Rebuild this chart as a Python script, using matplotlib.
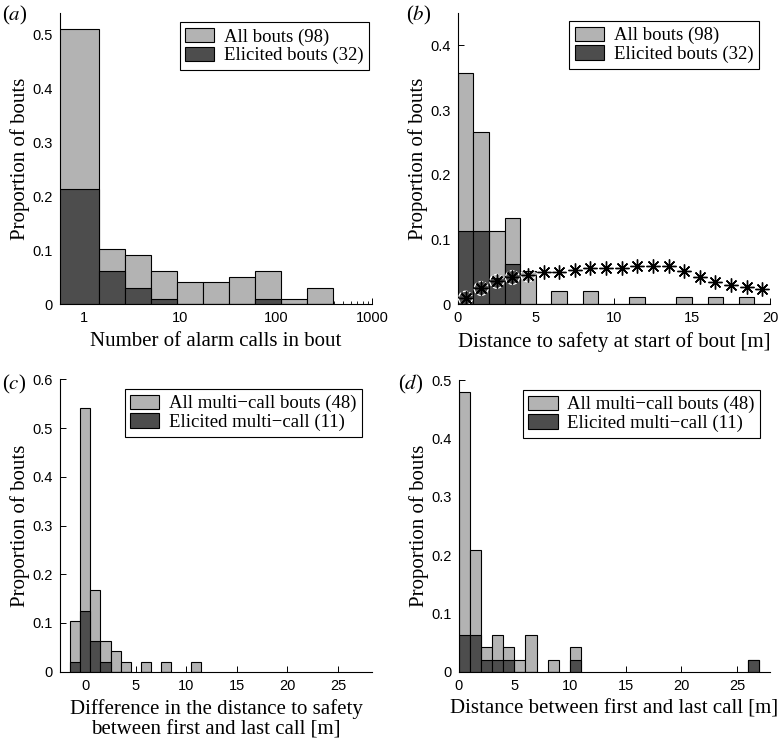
import numpy as np
import matplotlib
matplotlib.use("Agg")
import matplotlib.pyplot as plt

plt.rcParams['font.family'] = ['Liberation Serif', 'DejaVu Serif']
plt.rcParams['mathtext.fontset'] = 'stix'

LIGHT = '#b3b3b3'
DARK = '#4d4d4d'

# (a) number of alarm calls per bout, log bins (bin edges)
a_edges = [0.5, 1.43, 2.68, 4.97, 9.3, 17.3, 32.1, 60.2, 112.6, 209, 392]
a_all = [50, 10, 9, 6, 4, 4, 5, 6, 1, 3]          # of 98 bouts
a_elic = [21, 6, 3, 1, 0, 0, 0, 1, 0, 0]          # of 98 bouts

# (b) distance to safety at start of bout, 1 m bins from 0
b_all = [35, 26, 11, 13, 5, 0, 2, 0, 2, 0, 0, 1, 0, 0, 1, 0, 1, 0, 1, 0]
b_elic = [11, 11, 4, 6, 0, 0, 0, 0, 0, 0, 0, 0, 0, 0, 0, 0, 0, 0, 0, 0]
b_star = [0.009, 0.024, 0.035, 0.041, 0.045, 0.049, 0.050, 0.053, 0.055, 0.056,
          0.056, 0.058, 0.058, 0.058, 0.051, 0.042, 0.034, 0.029, 0.026, 0.023]

# (c) difference in distance to safety, bins centred on integers
c_centres = [-1, 0, 1, 2, 3, 4, 6, 8, 11]
c_all = [5, 26, 8, 3, 2, 1, 1, 1, 1]              # of 48 bouts
c_elic = [1, 6, 3, 1, 0, 0, 0, 0, 0]

# (d) distance between first and last call, 1 m bins from 0
d_left = [0, 1, 2, 3, 4, 5, 6, 8, 10, 26]
d_all = [23, 10, 2, 3, 2, 1, 3, 1, 2, 1]          # of 48 bouts
d_elic = [3, 3, 1, 1, 1, 0, 0, 0, 1, 1]

W, H = 782, 743
LAB = 15
fig = plt.figure(figsize=(W / 100, H / 100), dpi=100)


def make_ax(l, r, t, b):
    ax = fig.add_axes([l / W, 1 - b / H, (r - l) / W, (b - t) / H])
    ax.spines['top'].set_visible(False)
    ax.spines['right'].set_visible(False)
    for s in ('left', 'bottom'):
        ax.spines[s].set_linewidth(0.8)
    ax.tick_params(direction='in', length=4, width=0.7, pad=5,
                   labelsize=10.5, labelfontfamily='Liberation Sans')
    ax.tick_params(which='minor', direction='in', length=2, width=0.6)
    ax.set_axisbelow(True)
    return ax


def ylabels(ax, top, step=0.1):
    ticks = np.round(np.arange(0, top + 1e-9, step), 1)
    ax.set_yticks(ticks)
    ax.set_yticklabels(['0'] + [f'{t:g}' for t in ticks[1:]])


def legend(ax, labels, bx, by):
    h = [plt.Rectangle((0, 0), 1, 1, fc=LIGHT, ec='black', lw=0.8),
         plt.Rectangle((0, 0), 1, 1, fc=DARK, ec='black', lw=0.8)]
    lg = ax.legend(h, labels, loc='upper right', bbox_to_anchor=(bx, by),
                   borderaxespad=0, fancybox=False, edgecolor='black',
                   framealpha=1, fontsize=13.5, handlelength=1.55,
                   handleheight=0.8, labelspacing=0.05, handletextpad=0.5,
                   borderpad=0.3)
    lg.get_frame().set_linewidth(0.8)


# ---- (a)
ax = make_ax(60, 372, 13, 304)
edges = np.array(a_edges)
widths = np.diff(edges)
ax.bar(edges[:-1], np.array(a_all) / 98, width=widths, align='edge',
       color=LIGHT, edgecolor='black', linewidth=0.8)
ax.bar(edges[:-1], np.array(a_elic) / 98, width=widths, align='edge',
       color=DARK, edgecolor='black', linewidth=0.8)
ax.set_xscale('log')
ax.set_xlim(0.564, 1000)
ax.set_ylim(0, 0.54)
ax.set_xticks([1, 10, 100, 1000])
ax.set_xticklabels(['1', '10', '100', '1000'])
ylabels(ax, 0.5)
ax.set_xlabel('Number of alarm calls in bout', fontsize=LAB, labelpad=5)
ax.set_ylabel('Proportion of bouts', fontsize=LAB, labelpad=2)
legend(ax, ['All bouts (98)', 'Elicited bouts (32)'], 0.990, 0.968)

# ---- (b)
ax = make_ax(457.7, 770, 13, 304)
xl = np.arange(len(b_all))
ax.bar(xl, np.array(b_all) / 98, width=1, align='edge',
       color=LIGHT, edgecolor='black', linewidth=0.8)
ax.bar(xl, np.array(b_elic) / 98, width=1, align='edge',
       color=DARK, edgecolor='black', linewidth=0.8)
ax.scatter(xl + 0.5, b_star, s=100, facecolors='none', edgecolors='white',
           linewidths=0.9, linestyles='--', zorder=3)
ax.plot(xl + 0.5, b_star, linestyle='none', marker=(8, 2, 0), markersize=10,
        markeredgewidth=1.0, color='black', zorder=4)
ax.set_xlim(0, 20)
ax.set_ylim(0, 0.45)
ax.set_xticks([0, 5, 10, 15, 20])
ylabels(ax, 0.4)
ax.set_xlabel('Distance to safety at start of bout [m]', fontsize=LAB, labelpad=5)
ax.set_ylabel('Proportion of bouts', fontsize=LAB, labelpad=2)
legend(ax, ['All bouts (98)', 'Elicited bouts (32)'], 0.964, 0.9725)

# ---- (c)
ax = make_ax(60, 372.3, 379.3, 671.7)
ax.bar(c_centres, np.array(c_all) / 48, width=1,
       color=LIGHT, edgecolor='black', linewidth=0.8)
ax.bar(c_centres, np.array(c_elic) / 48, width=1,
       color=DARK, edgecolor='black', linewidth=0.8)
ax.set_xlim(-2.5, 28.4)
ax.set_ylim(0, 0.6)
ax.set_xticks([0, 5, 10, 15, 20, 25])
ylabels(ax, 0.6)
ax.set_xlabel('Difference in the distance to safety\nbetween first and last call [m]',
              fontsize=LAB, labelpad=5, linespacing=1.05)
ax.set_ylabel('Proportion of bouts', fontsize=LAB, labelpad=2)
legend(ax, ['All multi\u2212call bouts (48)', 'Elicited multi\u2212call (11)'],
       0.967, 0.967)

# ---- (d)
ax = make_ax(458.7, 770.3, 380, 671.7)
ax.bar(d_left, np.array(d_all) / 48, width=1, align='edge',
       color=LIGHT, edgecolor='black', linewidth=0.8)
ax.bar(d_left, np.array(d_elic) / 48, width=1, align='edge',
       color=DARK, edgecolor='black', linewidth=0.8)
ax.set_xlim(0, 28)
ax.set_ylim(0, 0.5)
ax.set_xticks([0, 5, 10, 15, 20, 25])
ylabels(ax, 0.5)
ax.set_xlabel('Distance between first and last call [m]', fontsize=LAB, labelpad=5)
ax.set_ylabel('Proportion of bouts', fontsize=LAB, labelpad=2)
legend(ax, ['All multi\u2212call bouts (48)', 'Elicited multi\u2212call (11)'],
       0.967, 0.966)

# panel letters
for lab, px, py in [('a', 2, 15), ('b', 406, 15), ('c', 2, 384), ('d', 398, 384)]:
    fig.text(px / W, 1 - py / H, '($\\mathit{%s}$)' % lab, fontsize=15,
             va='center', ha='left')

fig.savefig('out.png', dpi=100)
